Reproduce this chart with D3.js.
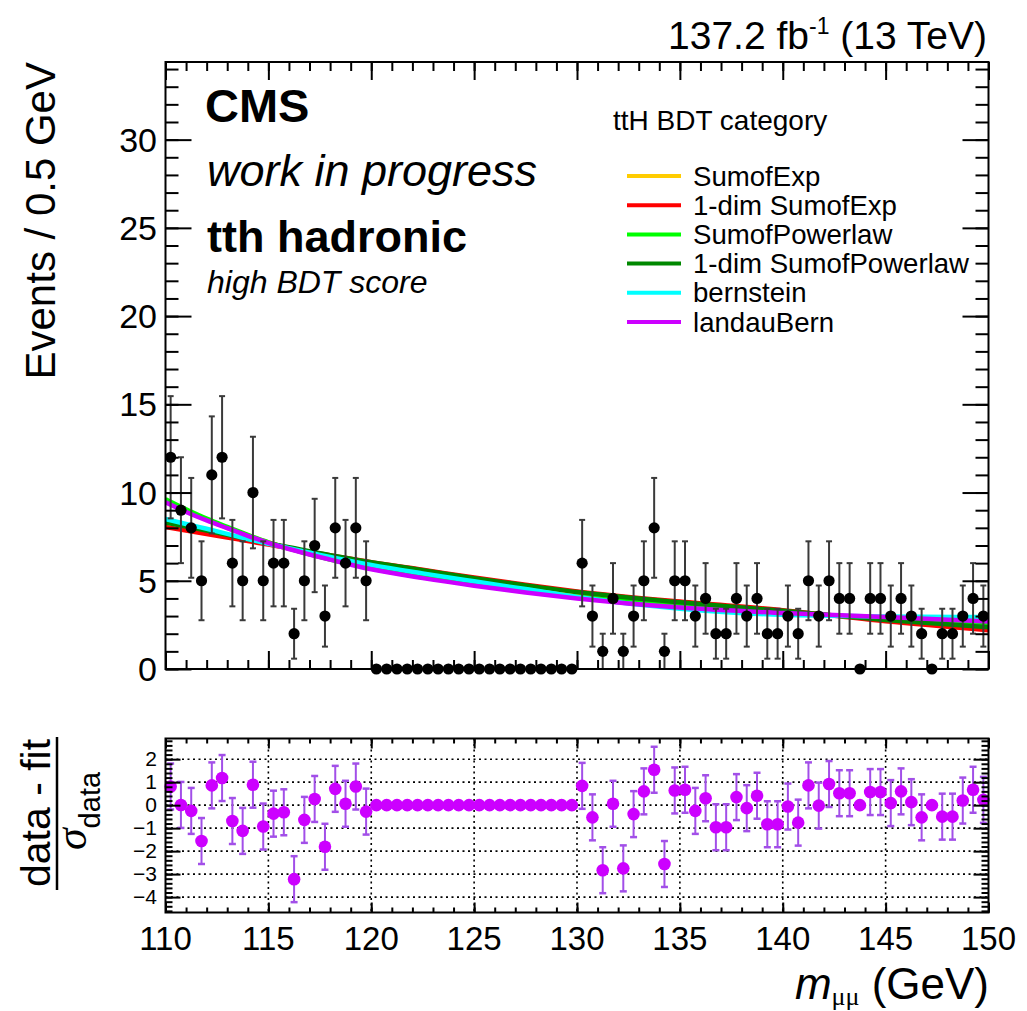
<!DOCTYPE html>
<html><head><meta charset="utf-8">
<script src="https://cdn.jsdelivr.net/npm/d3@7"></script>
<style>
body{margin:0;background:#fff}
svg{display:block}
text{font-family:"Liberation Sans",Arial,Helvetica,sans-serif;fill:#000}
</style>
</head><body>
<svg id="c" width="1027" height="1011"></svg>
<script>
// ---------------- data ----------------
const binLow = 110, binWidth = 0.5;
const counts = [12,9,8,5,11,12,6,5,10,5,6,6,2,5,7,3,8,6,8,5,
  0,0,0,0,0,0,0,0,0,0,0,0,0,0,0,0,0,0,0,0,
  6,3,1,4,1,3,5,8,1,5,5,3,4,2,2,4,3,4,2,2,
  3,2,5,3,5,4,4,0,4,4,3,4,3,2,0,2,2,3,4,3];
const pullsLandauBern = [0.81,0.01,-0.25,-1.56,0.86,1.18,-0.69,-1.12,0.89,-0.93,-0.37,-0.31,-3.22,-0.64,0.27,-1.81,0.71,0.06,0.81,-0.28,
  0,0,0,0,0,0,0,0,0,0,0,0,0,0,0,0,0,0,0,0,
  0.84,-0.53,-2.83,0.06,-2.75,-0.39,0.60,1.54,-2.56,0.64,0.67,-0.25,0.30,-0.96,-0.96,0.35,-0.13,0.41,-0.83,-0.83,
  -0.06,-0.76,0.86,-0.02,0.92,0.52,0.52,0,0.57,0.57,0.09,0.60,0.13,-0.53,0,-0.50,-0.50,0.20,0.67,0.23];

const curveX = [110,111,112,113,114,115,116,118,120,122.5,125,127.5,130,135,140,145,150];
const sumofExp            = [9.55,8.98,8.47,8.00,7.57,7.17,6.82,6.22,5.75,5.30,4.90,4.55,4.25,3.72,3.28,2.80,2.30];
const oneDimSumofExp      = [8.05,7.85,7.65,7.45,7.25,7.05,6.85,6.45,6.05,5.62,5.18,4.77,4.40,3.82,3.33,2.70,2.20];
const sumofPowerlaw       = [9.62,9.05,8.52,8.05,7.60,7.18,6.82,6.20,5.70,5.20,4.78,4.42,4.10,3.60,3.22,2.85,2.50];
const oneDimSumofPowerlaw = [8.30,8.07,7.84,7.60,7.36,7.12,6.90,6.45,6.05,5.60,5.15,4.74,4.36,3.78,3.30,2.78,2.37];
const bernstein           = [8.50,8.22,7.95,7.66,7.37,7.10,6.85,6.35,5.90,5.42,4.97,4.53,4.08,3.42,3.07,2.98,2.94];
const landauBern          = [9.45,8.90,8.42,7.98,7.55,7.15,6.80,6.20,5.65,5.15,4.72,4.34,4.00,3.48,3.17,2.95,2.69];

const seriesNames  = ["SumofExp","1-dim SumofExp","SumofPowerlaw","1-dim SumofPowerlaw","bernstein","landauBern"];
const seriesValues = [sumofExp, oneDimSumofExp, sumofPowerlaw, oneDimSumofPowerlaw, bernstein, landauBern];
const seriesColors = ["#ffcc00","#ff0000","#00ff00","#008800","#00ffff","#cc00ff"];

const xTicks = [110,115,120,125,130,135,140,145,150];
const yTicksTop = [0,5,10,15,20,25,30];
const yTicksBot = [-4,-3,-2,-1,0,1,2];

// ---------------- layout ----------------
const svg = d3.select("#c");
const X0 = 165.5, X1 = 988.5;
const T0 = 62, T1 = 669;
const B0 = 738.5, B1 = 912.5;

const x = d3.scaleLinear().domain([110,150]).range([X0,X1]);
const yT = d3.scaleLinear().domain([0,34.4]).range([T1,T0]);
const yB = d3.scaleLinear().domain([-4.67,2.9]).range([B1,B0]);

const binCenters = counts.map((_,i)=> binLow + binWidth*(i+0.5));

function styleAxis(g){
  g.select(".domain").remove();
  g.selectAll(".tick line").attr("stroke","#000").attr("stroke-width",2);
}
function ticksOnly(axis){ return axis.tickFormat(""); }

function frameAxes(xs, ys, top, bot, opts){
  const minorX = d3.range(110,150.001,1);
  const majX = xTicks;
  svg.append("g").attr("transform",`translate(0,${bot})`)
    .call(ticksOnly(d3.axisBottom(xs).tickValues(minorX).tickSize(-opts.xMin))).call(styleAxis);
  svg.append("g").attr("transform",`translate(0,${bot})`)
    .call(ticksOnly(d3.axisBottom(xs).tickValues(majX).tickSize(-opts.xMaj))).call(styleAxis);
  svg.append("g").attr("transform",`translate(0,${top})`)
    .call(ticksOnly(d3.axisTop(xs).tickValues(minorX).tickSize(-opts.xMin))).call(styleAxis);
  svg.append("g").attr("transform",`translate(0,${top})`)
    .call(ticksOnly(d3.axisTop(xs).tickValues(majX).tickSize(-opts.xMaj))).call(styleAxis);
  [[d3.axisLeft, X0],[d3.axisRight, X1]].forEach(([ax,pos])=>{
    svg.append("g").attr("transform",`translate(${pos},0)`)
      .call(ticksOnly(ax(ys).tickValues(opts.yMinorVals).tickSize(-opts.yMin))).call(styleAxis);
    svg.append("g").attr("transform",`translate(${pos},0)`)
      .call(ticksOnly(ax(ys).tickValues(opts.yMajVals).tickSize(-opts.yMaj))).call(styleAxis);
  });
  svg.append("rect").attr("x",X0).attr("y",top).attr("width",X1-X0).attr("height",bot-top)
    .attr("fill","none").attr("stroke","#000").attr("stroke-width",2);
}

// ---------------- top panel ----------------
svg.append("clipPath").attr("id","clipT").append("rect")
  .attr("x",X0).attr("y",T0).attr("width",X1-X0).attr("height",T1-T0);

const line = d3.line().x((d,i)=>x(curveX[i])).y(d=>yT(d)).curve(d3.curveMonotoneX);
const curvesG = svg.append("g").attr("clip-path","url(#clipT)");
seriesValues.forEach((vals,k)=>{
  curvesG.append("path").attr("d",line(vals)).attr("fill","none")
    .attr("stroke",seriesColors[k]).attr("stroke-width",4.5);
});

const dataG = svg.append("g");
counts.forEach((n,i)=>{
  const cx = x(binCenters[i]);
  if(n>0){
    const e = Math.sqrt(n);
    dataG.append("line").attr("x1",cx).attr("x2",cx).attr("y1",yT(n+e)).attr("y2",yT(n-e))
      .attr("stroke","#3a3a3a").attr("stroke-width",2);
    [n+e,n-e].forEach(v=>dataG.append("line").attr("x1",cx-3).attr("x2",cx+3)
      .attr("y1",yT(v)).attr("y2",yT(v)).attr("stroke","#3a3a3a").attr("stroke-width",2));
  }
  dataG.append("circle").attr("cx",cx).attr("cy",yT(n)).attr("r",5.6).attr("fill","#000");
});

frameAxes(x, yT, T0, T1, {
  xMin:9, xMaj:18, yMin:13, yMaj:26,
  yMinorVals:d3.range(0,34.01,1), yMajVals:d3.range(0,34.01,5)
});

svg.append("g").selectAll("text").data(yTicksTop).join("text")
  .attr("x",157).attr("y",d=>yT(d)+12).attr("text-anchor","end")
  .style("font-size","34px").text(d=>d);

// ---------------- bottom panel ----------------
const gridG = svg.append("g");
yTicksBot.forEach(v=>gridG.append("line").attr("x1",X0).attr("x2",X1).attr("y1",yB(v)).attr("y2",yB(v))
  .attr("stroke","#000").attr("stroke-width",1.6).attr("stroke-dasharray","2,3.5"));
xTicks.slice(1,-1).forEach(v=>gridG.append("line").attr("x1",x(v)).attr("x2",x(v)).attr("y1",B0).attr("y2",B1)
  .attr("stroke","#000").attr("stroke-width",1.6).attr("stroke-dasharray","2,3.5"));

const pullG = svg.append("g");
pullsLandauBern.forEach((p,i)=>{
  const cx = x(binCenters[i]);
  if(counts[i]>0){
    pullG.append("line").attr("x1",cx).attr("x2",cx).attr("y1",yB(p+1)).attr("y2",yB(p-1))
      .attr("stroke","#a24fe8").attr("stroke-width",2);
    [p+1,p-1].forEach(v=>pullG.append("line").attr("x1",cx-3.5).attr("x2",cx+3.5)
      .attr("y1",yB(v)).attr("y2",yB(v)).attr("stroke","#a24fe8").attr("stroke-width",2.5));
  }
  pullG.append("circle").attr("cx",cx).attr("cy",yB(p)).attr("r",6.3).attr("fill","#cc00ff");
});

frameAxes(x, yB, B0, B1, {
  xMin:5, xMaj:10, yMin:7, yMaj:15,
  yMinorVals:d3.range(-4.6,2.91,0.2), yMajVals:d3.range(-4,2.01,1)
});

svg.append("g").selectAll("text").data(yTicksBot).join("text")
  .attr("x",157).attr("y",d=>yB(d)+7).attr("text-anchor","end")
  .style("font-size","21px").text(d=>d3.format("d")(d).replace("-","\u2212"));

// x tick labels
svg.append("g").selectAll("text").data(xTicks).join("text")
  .attr("x",d=>x(d)).attr("y",950).attr("text-anchor","middle")
  .style("font-size","33px").text(d=>d);

// ---------------- titles / labels ----------------
svg.append("text").attr("x",987).attr("y",49).attr("text-anchor","end").style("font-size","39px")
  .html('137.2 fb<tspan dy="-15" style="font-size:23px">-1</tspan><tspan dy="15"> (13 TeV)</tspan>');

svg.append("text").attr("transform","translate(55,62) rotate(-90)").attr("text-anchor","end")
  .style("font-size","42px").text("Events / 0.5 GeV");

svg.append("text").attr("x",989).attr("y",999).attr("text-anchor","end").style("font-size","44px")
  .html('<tspan style="font-style:italic">m</tspan><tspan dy="6" style="font-size:26px;font-family:\'Liberation Serif\',serif">\u03bc\u03bc</tspan><tspan dy="-6"> (GeV)</tspan>');

svg.append("text").attr("transform","translate(50,813) rotate(-90)").attr("text-anchor","middle")
  .style("font-size","41px").text("data - fit");
svg.append("line").attr("x1",57).attr("x2",57).attr("y1",737).attr("y2",890)
  .attr("stroke","#000").attr("stroke-width",2.5);
svg.append("text").attr("transform","translate(86,811) rotate(-90)").attr("text-anchor","middle")
  .style("font-size","44px")
  .html('<tspan style="font-style:italic;font-family:\'Liberation Serif\',serif">\u03c3</tspan><tspan dy="14" style="font-size:29px">data</tspan>');

svg.append("text").attr("x",205).attr("y",122).style("font-size","47px").style("font-weight","bold").text("CMS");
svg.append("text").attr("x",207).attr("y",186).style("font-size","45px").style("font-style","italic").text("work in progress");
svg.append("text").attr("x",207).attr("y",252).style("font-size","45px").style("font-weight","bold").text("tth hadronic");
svg.append("text").attr("x",207).attr("y",293).style("font-size","32px").style("font-style","italic").text("high BDT score");

svg.append("text").attr("x",613).attr("y",130).style("font-size","28px").text("ttH BDT category");
const leg = svg.append("g");
seriesNames.forEach((nm,k)=>{
  const yy = 176 + k*29.2;
  leg.append("line").attr("x1",627).attr("x2",681).attr("y1",yy).attr("y2",yy)
    .attr("stroke",seriesColors[k]).attr("stroke-width",4);
  leg.append("text").attr("x",693).attr("y",yy+9.5).style("font-size","27.6px").text(nm);
});
</script>
</body></html>
